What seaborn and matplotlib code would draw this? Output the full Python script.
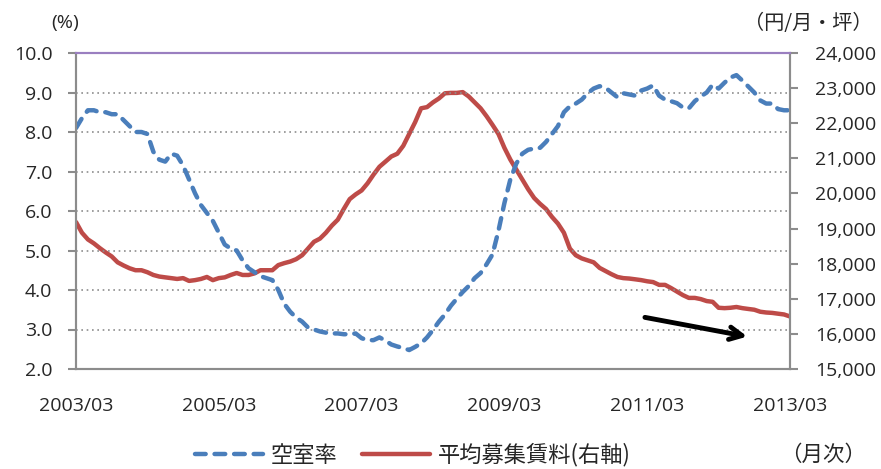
import numpy as np
import pandas as pd
import matplotlib
matplotlib.use("Agg")
import matplotlib.pyplot as plt
import seaborn as sns

# ---------------- data (monthly, 2003/03 .. 2013/03) ----------------
vacancy = [
    8.10, 8.35, 8.55, 8.55, 8.50, 8.50, 8.45, 8.45, 8.30, 8.15,
    8.00, 8.00, 7.95, 7.50, 7.30, 7.25, 7.45, 7.40, 7.15, 6.80,
    6.45, 6.15, 5.95, 5.75, 5.45, 5.15, 5.05, 5.00, 4.75, 4.55,
    4.45, 4.35, 4.30, 4.25, 4.00, 3.65, 3.45, 3.30, 3.20, 3.05,
    3.00, 2.95, 2.92, 2.90, 2.90, 2.88, 2.88, 2.90, 2.78, 2.73,
    2.73, 2.80, 2.72, 2.62, 2.57, 2.53, 2.48, 2.56, 2.65, 2.80,
    2.99, 3.20, 3.38, 3.60, 3.78, 3.95, 4.10, 4.30, 4.43, 4.65,
    4.90, 5.50, 6.20, 6.80, 7.20, 7.45, 7.55, 7.58, 7.60, 7.75,
    7.95, 8.15, 8.50, 8.65, 8.72, 8.82, 8.98, 9.10, 9.16, 9.12,
    9.00, 8.88, 8.98, 8.95, 8.92, 9.05, 9.10, 9.18, 8.92, 8.82,
    8.78, 8.73, 8.62, 8.60, 8.78, 8.90, 9.00, 9.20, 9.10, 9.25,
    9.38, 9.44, 9.30, 9.15, 9.00, 8.80, 8.72, 8.72, 8.58, 8.55,
    8.55,
]
rent = [
    19185, 18881, 18690, 18578, 18443, 18319, 18206, 18038, 17948, 17869,
    17813, 17813, 17756, 17678, 17633, 17610, 17588, 17565, 17588, 17509,
    17531, 17565, 17621, 17531, 17588, 17610, 17678, 17734, 17678, 17678,
    17723, 17813, 17813, 17813, 17959, 18015, 18060, 18128, 18240, 18431,
    18623, 18713, 18881, 19084, 19253, 19556, 19838, 19973, 20085, 20288,
    20535, 20760, 20906, 21053, 21131, 21356, 21694, 22031, 22425, 22459,
    22594, 22706, 22853, 22864, 22864, 22886, 22763, 22594, 22425, 22200,
    21953, 21694, 21300, 20963, 20681, 20400, 20119, 19871, 19703, 19556,
    19331, 19140, 18881, 18431, 18240, 18150, 18094, 18038, 17880, 17790,
    17700, 17621, 17588, 17576, 17554, 17531, 17498, 17475, 17396, 17396,
    17306, 17205, 17104, 17025, 17025, 16991, 16935, 16913, 16744, 16733,
    16744, 16766, 16733, 16710, 16688, 16631, 16609, 16598, 16575, 16553,
    16496,
]
n = min(len(vacancy), len(rent))
months = list(range(n))
xtick_labels = ["2003/03", "2005/03", "2007/03", "2009/03", "2011/03", "2013/03"]
left_ticks = [2.0, 3.0, 4.0, 5.0, 6.0, 7.0, 8.0, 9.0, 10.0]
right_ticks = [15000, 16000, 17000, 18000, 19000, 20000, 21000, 22000, 23000, 24000]
series_names = ["空室率", "平均募集賃料(右軸)"]

df = pd.DataFrame({"month": months, "vacancy": vacancy[:n], "rent": rent[:n]})

# ---------------- style ----------------
sns.set_style("white")
plt.rcParams["font.family"] = ["Open Sans", "Noto Sans CJK JP", "DejaVu Sans"]
BLUE = "#4A7EBB"
RED = "#BE4B48"
GREY = "#8C8C8C"
PURPLE = "#9A7FC0"
CJK = ["Noto Sans CJK JP", "DejaVu Sans"]

fig = plt.figure(figsize=(8.81, 4.69), dpi=100)
ax = fig.add_axes([76 / 881, 1 - 369 / 469, 714 / 881, 316 / 469])
ax2 = ax.twinx()

sns.lineplot(data=df, x="month", y="vacancy", ax=ax, color=BLUE, lw=3.2,
             linestyle=(0, (2.4, 2.0)), dash_capstyle="round", label=series_names[0],
             legend=False)
sns.lineplot(data=df, x="month", y="rent", ax=ax2, color=RED, lw=3.2,
             solid_capstyle="round", label=series_names[1], legend=False)

ax.set_xlim(0, 120)
ax.set_ylim(2.0, 10.0)
ax2.set_ylim(15000, 24000)
ax.set_xticks(np.arange(0, 121, 24))
ax.set_xticklabels(xtick_labels)
ax.set_yticks(left_ticks)
ax.set_yticklabels([f"{v:.1f}" for v in left_ticks])
ax2.set_yticks(right_ticks)
ax2.set_yticklabels([f"{v:,}" for v in right_ticks])
ax.set_xlabel("")
ax.set_ylabel("")
ax2.set_ylabel("")

for v in left_ticks[1:-1]:
    ax.axhline(v, color="#8E8E8E", lw=1.2, linestyle=(0, (1, 2.2)), zorder=0)
ax.grid(False)
ax2.grid(False)

for a in (ax, ax2):
    for s in ("left", "right", "bottom"):
        a.spines[s].set_color(GREY)
        a.spines[s].set_linewidth(1.5)
    a.spines["top"].set_color(PURPLE)
    a.spines["top"].set_linewidth(1.5)
ax.tick_params(axis="x", direction="out", length=4.5, width=1.5, color=GREY,
               labelsize=14, pad=16)
ax.tick_params(axis="y", direction="out", length=6, width=1.5, color=GREY,
               labelsize=14, pad=11)
ax2.tick_params(axis="y", direction="out", length=6, width=1.5, color=GREY,
                labelsize=14, pad=12)
ax.set_zorder(ax2.get_zorder() + 1)
ax.patch.set_visible(False)

# trend arrow annotation
ax.annotate("", xy=(0.944, 0.101), xytext=(0.793, 0.165),
            xycoords="axes fraction", textcoords="axes fraction",
            arrowprops=dict(arrowstyle="->,head_length=0.9,head_width=0.45",
                            lw=3.5, color="black"))

# unit labels
fig.text(65 / 881, 1 - 23 / 469, "(%)", ha="center", va="center", fontsize=14)
fig.text(808 / 881, 1 - 23 / 469, "（円/月・坪）", ha="center", va="center",
         fontsize=14.5, family=CJK)
fig.text(823 / 881, 1 - 455 / 469, "（月次）", ha="center", va="center",
         fontsize=15.5, family=CJK)

h1, l1 = ax.get_legend_handles_labels()
h2, l2 = ax2.get_legend_handles_labels()
fig.legend(h1 + h2, l1 + l2, loc="center", bbox_to_anchor=(413 / 881, 1 - 455 / 469),
           ncol=2, frameon=False, prop={"family": CJK, "size": 16},
           handlelength=3.06, columnspacing=1.08, handletextpad=0.36,
           borderpad=0.1)

fig.savefig("out.png", dpi=100)
